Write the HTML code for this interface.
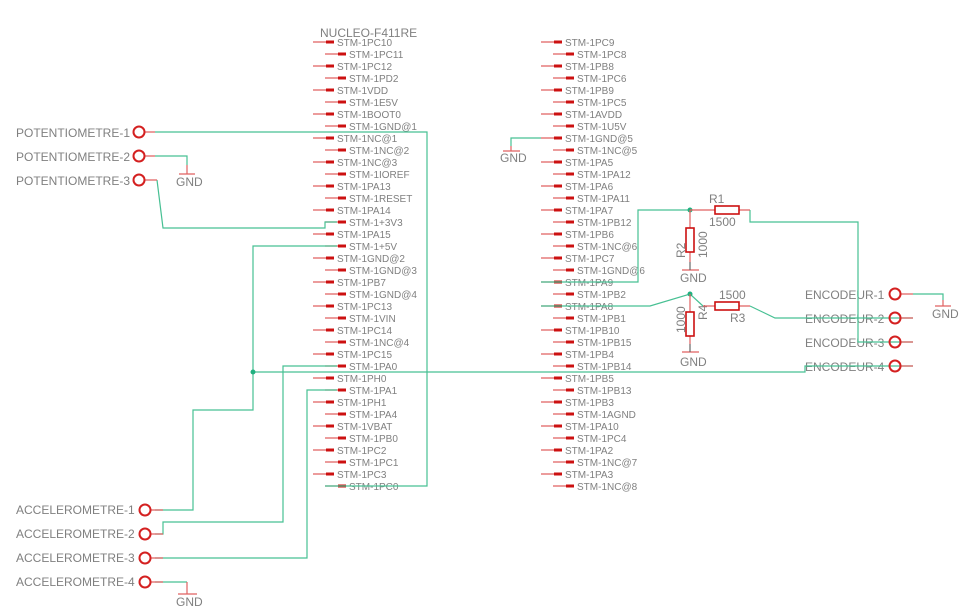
<!DOCTYPE html>
<html><head><meta charset="utf-8"><style>
html,body{margin:0;padding:0;background:#fff;width:967px;height:612px;overflow:hidden}
svg{display:block}
text{font-family:"Liberation Sans",sans-serif;fill:#808080}
.p{font-size:10px}
.l{font-size:12px}
.g{stroke:#47c093;stroke-width:1.2;fill:none}
.r{stroke:#e06060;stroke-width:1.2;fill:none}
.t{stroke:#cc1010;stroke-width:3;fill:none}
.c{stroke:#d42020;stroke-width:2;fill:none}
.res{stroke:#cc1010;stroke-width:1.6;fill:#fff}
</style></head><body>
<svg width="967" height="612" viewBox="0 0 967 612" xmlns="http://www.w3.org/2000/svg">
<text x="320" y="37" class="l">NUCLEO-F411RE</text>
<!-- left pins -->
<g>
<path class="r" d="M313 42h21M325 54h21M313 66h21M325 78h21M313 90h21M325 102h21M313 114h21M325 126h21M313 138h21M325 150h21M313 162h21M325 174h21M313 186h21M325 198h21M313 210h21M325 222h21M313 234h21M325 246h21M313 258h21M325 270h21M313 282h21M325 294h21M313 306h21M325 318h21M313 330h21M325 342h21M313 354h21M325 366h21M313 378h21M325 390h21M313 402h21M325 414h21M313 426h21M325 438h21M313 450h21M325 462h21M313 474h21M325 486h21"/>
<path class="t" d="M326 42h8M338 54h8M326 66h8M338 78h8M326 90h8M338 102h8M326 114h8M338 126h8M326 138h8M338 150h8M326 162h8M338 174h8M326 186h8M338 198h8M326 210h8M338 222h8M326 234h8M338 246h8M326 258h8M338 270h8M326 282h8M338 294h8M326 306h8M338 318h8M326 330h8M338 342h8M326 354h8M338 366h8M326 378h8M338 390h8M326 402h8M338 414h8M326 426h8M338 438h8M326 450h8M338 462h8M326 474h8M338 486h8"/>
<g class="p">
<text x="337" y="46">STM-1PC10</text><text x="349" y="58">STM-1PC11</text>
<text x="337" y="70">STM-1PC12</text><text x="349" y="82">STM-1PD2</text>
<text x="337" y="94">STM-1VDD</text><text x="349" y="106">STM-1E5V</text>
<text x="337" y="118">STM-1BOOT0</text><text x="349" y="130">STM-1GND@1</text>
<text x="337" y="142">STM-1NC@1</text><text x="349" y="154">STM-1NC@2</text>
<text x="337" y="166">STM-1NC@3</text><text x="349" y="178">STM-1IOREF</text>
<text x="337" y="190">STM-1PA13</text><text x="349" y="202">STM-1RESET</text>
<text x="337" y="214">STM-1PA14</text><text x="349" y="226">STM-1+3V3</text>
<text x="337" y="238">STM-1PA15</text><text x="349" y="250">STM-1+5V</text>
<text x="337" y="262">STM-1GND@2</text><text x="349" y="274">STM-1GND@3</text>
<text x="337" y="286">STM-1PB7</text><text x="349" y="298">STM-1GND@4</text>
<text x="337" y="310">STM-1PC13</text><text x="349" y="322">STM-1VIN</text>
<text x="337" y="334">STM-1PC14</text><text x="349" y="346">STM-1NC@4</text>
<text x="337" y="358">STM-1PC15</text><text x="349" y="370">STM-1PA0</text>
<text x="337" y="382">STM-1PH0</text><text x="349" y="394">STM-1PA1</text>
<text x="337" y="406">STM-1PH1</text><text x="349" y="418">STM-1PA4</text>
<text x="337" y="430">STM-1VBAT</text><text x="349" y="442">STM-1PB0</text>
<text x="337" y="454">STM-1PC2</text><text x="349" y="466">STM-1PC1</text>
<text x="337" y="478">STM-1PC3</text><text x="349" y="490">STM-1PC0</text>
</g></g>
<!-- right pins -->
<g>
<path class="r" d="M541 42h21M553 54h21M541 66h21M553 78h21M541 90h21M553 102h21M541 114h21M553 126h21M541 138h21M553 150h21M541 162h21M553 174h21M541 186h21M553 198h21M541 210h21M553 222h21M541 234h21M553 246h21M541 258h21M553 270h21M541 282h21M553 294h21M541 306h21M553 318h21M541 330h21M553 342h21M541 354h21M553 366h21M541 378h21M553 390h21M541 402h21M553 414h21M541 426h21M553 438h21M541 450h21M553 462h21M541 474h21M553 486h21"/>
<path class="t" d="M554 42h8M566 54h8M554 66h8M566 78h8M554 90h8M566 102h8M554 114h8M566 126h8M554 138h8M566 150h8M554 162h8M566 174h8M554 186h8M566 198h8M554 210h8M566 222h8M554 234h8M566 246h8M554 258h8M566 270h8M554 282h8M566 294h8M554 306h8M566 318h8M554 330h8M566 342h8M554 354h8M566 366h8M554 378h8M566 390h8M554 402h8M566 414h8M554 426h8M566 438h8M554 450h8M566 462h8M554 474h8M566 486h8"/>
<g class="p">
<text x="565" y="46">STM-1PC9</text><text x="577" y="58">STM-1PC8</text>
<text x="565" y="70">STM-1PB8</text><text x="577" y="82">STM-1PC6</text>
<text x="565" y="94">STM-1PB9</text><text x="577" y="106">STM-1PC5</text>
<text x="565" y="118">STM-1AVDD</text><text x="577" y="130">STM-1U5V</text>
<text x="565" y="142">STM-1GND@5</text><text x="577" y="154">STM-1NC@5</text>
<text x="565" y="166">STM-1PA5</text><text x="577" y="178">STM-1PA12</text>
<text x="565" y="190">STM-1PA6</text><text x="577" y="202">STM-1PA11</text>
<text x="565" y="214">STM-1PA7</text><text x="577" y="226">STM-1PB12</text>
<text x="565" y="238">STM-1PB6</text><text x="577" y="250">STM-1NC@6</text>
<text x="565" y="262">STM-1PC7</text><text x="577" y="274">STM-1GND@6</text>
<text x="565" y="286">STM-1PA9</text><text x="577" y="298">STM-1PB2</text>
<text x="565" y="310">STM-1PA8</text><text x="577" y="322">STM-1PB1</text>
<text x="565" y="334">STM-1PB10</text><text x="577" y="346">STM-1PB15</text>
<text x="565" y="358">STM-1PB4</text><text x="577" y="370">STM-1PB14</text>
<text x="565" y="382">STM-1PB5</text><text x="577" y="394">STM-1PB13</text>
<text x="565" y="406">STM-1PB3</text><text x="577" y="418">STM-1AGND</text>
<text x="565" y="430">STM-1PA10</text><text x="577" y="442">STM-1PC4</text>
<text x="565" y="454">STM-1PA2</text><text x="577" y="466">STM-1NC@7</text>
<text x="565" y="478">STM-1PA3</text><text x="577" y="490">STM-1NC@8</text>
</g></g>

<!-- connectors left -->
<g class="l">
<text x="16" y="137">POTENTIOMETRE-1</text>
<text x="16" y="161">POTENTIOMETRE-2</text>
<text x="16" y="185">POTENTIOMETRE-3</text>
<text x="16" y="514">ACCELEROMETRE-1</text>
<text x="16" y="538">ACCELEROMETRE-2</text>
<text x="16" y="562">ACCELEROMETRE-3</text>
<text x="16" y="586">ACCELEROMETRE-4</text>
<text x="805" y="299">ENCODEUR-1</text>
<text x="805" y="323">ENCODEUR-2</text>
<text x="805" y="347">ENCODEUR-3</text>
<text x="805" y="371">ENCODEUR-4</text>
<text x="176" y="186">GND</text>
<text x="176" y="606">GND</text>
<text x="500" y="162">GND</text>
<text x="680" y="282">GND</text>
<text x="680" y="366">GND</text>
<text x="932" y="318">GND</text>
<text x="709" y="203">R1</text>
<text x="709" y="226">1500</text>
<text x="719" y="299">1500</text>
<text x="730" y="322">R3</text>
</g>
<g class="l">
<text transform="translate(685,258) rotate(-90)">R2</text>
<text transform="translate(707,258) rotate(-90)">1000</text>
<text transform="translate(685,333) rotate(-90)">1000</text>
<text transform="translate(707,320) rotate(-90)">R4</text>
</g>

<!-- green wires -->
<g class="g">
<path d="M155 132H427V486H325"/>
<path d="M155 156H187V165"/>
<path d="M157 180L163 228H325V222H337"/>
<path d="M337 246H253V410H193V510H155"/>
<path d="M253 372H805V366H913"/>
<path d="M337 366H283V522H163V534H155"/>
<path d="M337 390H307V558H155"/>
<path d="M155 582H187"/>
<path d="M541 138H511V146"/>
<path d="M541 282H638V210H690"/>
<path d="M750 210V222H858V342H913"/>
<path d="M541 306H650L690 294L703 306"/>
<path d="M750 306L775 318H913"/>
<path d="M913 294H943V300"/>
</g>
<circle cx="253" cy="372" r="2.5" fill="#20b080"/>
<circle cx="690" cy="210" r="2.5" fill="#20b080"/>
<circle cx="690" cy="294" r="2.5" fill="#20b080"/>

<!-- red stubs & gnd -->
<g class="r">
<path d="M145 132h10M145 156h10M145 180h12M151 510h12M151 534h12M151 558h12M151 582h12M901 294h12M901 318h12M901 342h12M901 366h12"/>
<path d="M187 165v9M179 174h16M187 582v12M178 594h19M511 146v5M503 151h17M943 300v6M935 306h16"/>
<path d="M690 210h25M739 210h11M690 210v18M690 252v10M682 270h17"/>
<path d="M690 294v18M690 336v8M682 352h17M703 306h12M739 306h11"/>
</g>
<path d="M690 262v8M690 344v8" stroke="#666" stroke-width="1.2"/>
<g class="res">
<rect x="715" y="206" width="24" height="8"/>
<rect x="715" y="302" width="24" height="8"/>
<rect x="686" y="228" width="8" height="24"/>
<rect x="686" y="312" width="8" height="24"/>
</g>
<g class="c">
<circle cx="139" cy="132" r="5.5"/><circle cx="139" cy="156" r="5.5"/><circle cx="139" cy="180" r="5.5"/>
<circle cx="145" cy="510" r="5.5"/><circle cx="145" cy="534" r="5.5"/><circle cx="145" cy="558" r="5.5"/><circle cx="145" cy="582" r="5.5"/>
<circle cx="895" cy="294" r="5.5"/><circle cx="895" cy="318" r="5.5"/><circle cx="895" cy="342" r="5.5"/><circle cx="895" cy="366" r="5.5"/>
</g>
</svg>
</body></html>
